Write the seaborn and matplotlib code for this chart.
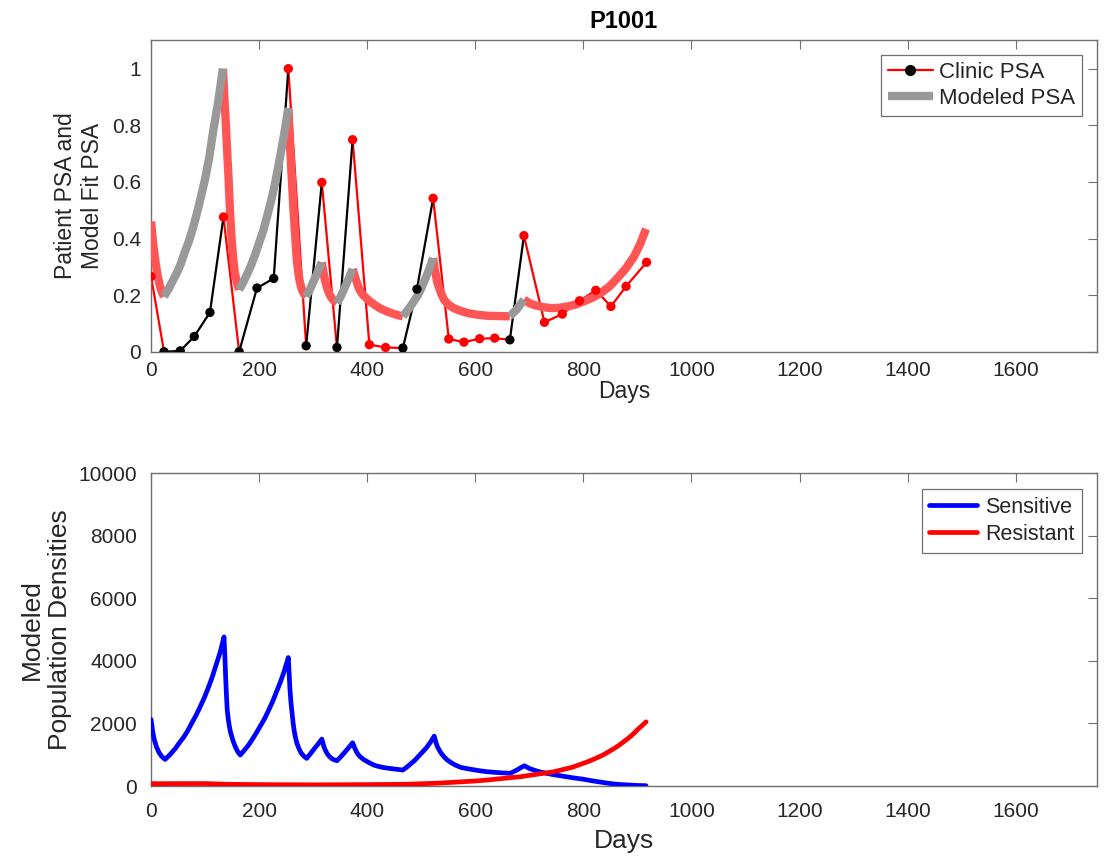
import numpy as np
import pandas as pd
import matplotlib
matplotlib.use("Agg")
import matplotlib.pyplot as plt
from matplotlib.lines import Line2D
import seaborn as sns

# ---------------- data ----------------
clinic_days = [0, 24, 54, 80, 109, 134, 163, 196, 227, 254, 287, 316, 344, 373, 404, 434,
               466, 492, 522, 551, 579, 608, 636, 664, 690, 728, 761, 793, 823, 851, 879, 917]
clinic_psa = [0.266, 0.0, 0.003, 0.054, 0.139, 0.476, 0.0, 0.225, 0.259, 1.0, 0.021, 0.598,
              0.015, 0.749, 0.025, 0.015, 0.013, 0.221, 0.542, 0.045, 0.034, 0.046, 0.048,
              0.042, 0.41, 0.104, 0.133, 0.18, 0.217, 0.16, 0.231, 0.316]
clinic_phase = ["on", "off", "off", "off", "off", "on", "off", "off", "off", "on", "off", "on",
                "off", "on", "on", "on", "off", "off", "on", "on", "on", "on", "on", "off",
                "on", "on", "on", "on", "on", "on", "on", "on"]

# modeled PSA, one list per treatment segment (on = red, off = gray)
model_on1_days = [0, 4, 8, 12, 16, 20, 24]
model_on1_psa = [0.46, 0.38, 0.32, 0.27, 0.235, 0.21, 0.195]
model_off1_days = [24, 32, 40, 48, 55, 62, 70, 78, 85, 92, 100, 108, 115, 124, 133]
model_off1_psa = [0.195, 0.22, 0.25, 0.28, 0.31, 0.35, 0.39, 0.44, 0.49, 0.545, 0.61, 0.69,
                  0.78, 0.88, 1.0]
model_on2_days = [133, 135.5, 138, 140.5, 143, 146, 149, 152, 155, 159, 163]
model_on2_psa = [1.0, 0.9, 0.82, 0.72, 0.63, 0.5, 0.40, 0.33, 0.28, 0.245, 0.219]
model_off2_days = [163, 170, 178, 185, 193, 200, 208, 215, 223, 230, 238, 246, 254]
model_off2_psa = [0.219, 0.243, 0.275, 0.305, 0.345, 0.385, 0.43, 0.48, 0.54, 0.60, 0.68,
                  0.765, 0.861]
model_on3_days = [254, 256, 258, 260, 262, 264, 266, 268, 270, 272.5, 275, 277.5, 280, 283.5, 287]
model_on3_psa = [0.861, 0.78, 0.70, 0.63, 0.56, 0.49, 0.43, 0.37, 0.32, 0.28, 0.25, 0.23,
                 0.215, 0.203, 0.195]
model_off3_days = [287, 294, 301, 308, 316]
model_off3_psa = [0.195, 0.22, 0.25, 0.28, 0.316]
model_on4_days = [316, 318, 320, 322.5, 325, 328, 331, 334, 337, 340.5, 344]
model_on4_psa = [0.316, 0.29, 0.27, 0.248, 0.23, 0.213, 0.20, 0.19, 0.183, 0.177, 0.172]
model_off4_days = [344, 351, 358, 365, 373]
model_off4_psa = [0.172, 0.195, 0.225, 0.255, 0.292]
model_on5_days = [373, 376.5, 380, 383.5, 387, 392, 398, 405, 412, 418, 425, 431, 437, 444,
                  452, 459, 466]
model_on5_psa = [0.292, 0.27, 0.25, 0.23, 0.215, 0.201, 0.19, 0.178, 0.168, 0.16, 0.152,
                 0.147, 0.142, 0.137, 0.132, 0.128, 0.125]
model_off5_days = [466, 473, 480, 487, 494, 501, 508, 515, 522]
model_off5_psa = [0.125, 0.142, 0.16, 0.18, 0.20, 0.228, 0.26, 0.293, 0.331]
model_on6_days = [522, 525, 530, 536, 542, 550, 560, 572, 585, 603, 622, 643, 664]
model_on6_psa = [0.331, 0.29, 0.243, 0.21, 0.184, 0.167, 0.154, 0.145, 0.137, 0.131, 0.127,
                 0.126, 0.125]
model_off6_days = [664, 670, 677, 683, 690]
model_off6_psa = [0.125, 0.137, 0.15, 0.166, 0.184]
model_on7_days = [690, 700, 709, 724, 740, 755, 771, 786, 801, 816, 832, 848, 863, 879, 894,
                  905, 916]
model_on7_psa = [0.184, 0.172, 0.165, 0.158, 0.154, 0.155, 0.16, 0.167, 0.178, 0.19, 0.207,
                 0.23, 0.26, 0.295, 0.337, 0.38, 0.434]

sens_days = [0, 3, 6, 10, 15, 20, 26, 35, 45, 52, 60, 68, 75, 83, 90, 98, 105, 113, 120, 128,
             135, 136.5, 138, 139.5, 141, 143, 145, 147, 149.5, 152, 156, 160, 165, 172, 180,
             187, 195, 202, 210, 217, 225, 232, 240, 247, 254, 255.5, 257, 259, 261, 263, 265,
             267.5, 270, 274, 278, 283, 288, 295, 302, 309, 316, 318, 320, 323, 326, 330, 334,
             339, 344, 351, 358, 365, 373, 376, 380, 383, 387, 393, 400, 412, 420, 430, 440,
             450, 458, 466, 473, 480, 488, 495, 502, 510, 517, 524, 527, 530, 536, 542, 548,
             555, 563, 573, 586, 600, 611, 622, 633, 645, 655, 665, 671, 678, 684, 691, 695,
             700, 710, 718, 727, 742, 760, 780, 801, 815, 830, 843, 857, 870, 885, 900, 916]
sens_vals = [2128, 1750, 1480, 1250, 1060, 940, 850, 1000, 1200, 1370, 1550, 1770, 2000, 2250,
             2500, 2800, 3100, 3470, 3850, 4280, 4763, 4200, 3500, 2900, 2424, 2120, 1900,
             1720, 1573, 1430, 1250, 1110, 989, 1130, 1300, 1480, 1700, 1910, 2150, 2400, 2700,
             3000, 3350, 3700, 4105, 3600, 3100, 2650, 2319, 2000, 1750, 1530, 1362, 1180,
             1050, 950, 883, 1030, 1190, 1340, 1499, 1380, 1250, 1130, 1030, 945, 880, 835,
             808, 930, 1070, 1210, 1381, 1250, 1100, 1010, 935, 850, 780, 670, 630, 590, 565,
             545, 527, 510, 600, 700, 820, 950, 1080, 1230, 1400, 1595, 1400, 1250, 1070, 935,
             835, 750, 670, 596, 550, 510, 480, 456, 440, 425, 414, 405, 460, 520, 585, 648,
             610, 560, 500, 460, 424, 370, 320, 265, 214, 170, 130, 95, 64, 45, 30, 18, 10]
res_days = [0, 100, 140, 200, 300, 400, 470, 530, 600, 622, 684, 746, 780, 808, 820, 835, 846,
            857, 866, 875, 882, 888, 894, 900, 908, 916]
res_vals = [75, 78, 55, 45, 38, 45, 55, 90, 160, 191, 298, 457, 600, 776, 860, 980, 1085,
            1200, 1300, 1420, 1510, 1595, 1690, 1800, 1920, 2051]

# ---------------- build tables ----------------
model_segments = [
    (model_on1_days, model_on1_psa, "on"), (model_off1_days, model_off1_psa, "off"),
    (model_on2_days, model_on2_psa, "on"), (model_off2_days, model_off2_psa, "off"),
    (model_on3_days, model_on3_psa, "on"), (model_off3_days, model_off3_psa, "off"),
    (model_on4_days, model_on4_psa, "on"), (model_off4_days, model_off4_psa, "off"),
    (model_on5_days, model_on5_psa, "on"), (model_off5_days, model_off5_psa, "off"),
    (model_on6_days, model_on6_psa, "on"), (model_off6_days, model_off6_psa, "off"),
    (model_on7_days, model_on7_psa, "on"),
]
rows = []
for k, (d, p, ph) in enumerate(model_segments):
    for dd, pp in zip(d, p):
        rows.append({"day": dd, "psa": pp, "seg": k, "phase": ph})
model_df = pd.DataFrame(rows)

# clinic line pieces, each colored by the phase of its starting visit
crow = []
for i in range(len(clinic_days) - 1):
    for j in (i, i + 1):
        crow.append({"day": clinic_days[j], "psa": clinic_psa[j], "seg": i,
                     "phase": clinic_phase[i]})
clinic_lines = pd.DataFrame(crow)
clinic_pts = pd.DataFrame({"day": clinic_days, "psa": clinic_psa, "phase": clinic_phase})

sens_df = pd.DataFrame({"day": sens_days, "val": sens_vals})
res_df = pd.DataFrame({"day": res_days, "val": res_vals})

# ---------------- style ----------------
sns.set_style("white")
plt.rcParams["font.family"] = ["Liberation Sans", "DejaVu Sans"]
TXT = "#262626"
SPINE = "#707070"

fig = plt.figure(figsize=(11.05, 8.61), dpi=100)
ax1 = fig.add_axes([0.1367, 0.5915, 0.8558, 0.3616])
ax2 = fig.add_axes([0.1367, 0.0871, 0.8558, 0.3635])

clinic_pal = {"on": "#ff0000", "off": "#000000"}
model_pal = {"on": "#ff5555", "off": "#999999"}

sns.lineplot(data=clinic_lines, x="day", y="psa", units="seg", estimator=None, hue="phase",
             palette=clinic_pal, sort=False, linewidth=1.6, legend=False, ax=ax1, zorder=2)
sns.lineplot(data=model_df, x="day", y="psa", units="seg", estimator=None, hue="phase",
             palette=model_pal, sort=False, linewidth=6, legend=False, ax=ax1, zorder=3,
             solid_capstyle="butt")
sns.scatterplot(data=clinic_pts, x="day", y="psa", hue="phase", palette=clinic_pal, s=45,
                edgecolor="none", legend=False, ax=ax1, zorder=4)

sns.lineplot(data=sens_df, x="day", y="val", color="#0000ff", linewidth=3.4, sort=False,
             estimator=None, ax=ax2, zorder=3)
sns.lineplot(data=res_df, x="day", y="val", color="#ff0000", linewidth=3.4, sort=False,
             estimator=None, ax=ax2, zorder=3)

for ax in (ax1, ax2):
    ax.set_xlim(0, 1750)
    ax.set_xticks(np.arange(0, 1601, 200))
    ax.tick_params(direction="in", top=True, right=True, length=6.5, width=0.8,
                   color=SPINE, labelcolor=TXT, labelsize=15, pad=7)
    for sp in ax.spines.values():
        sp.set_color(SPINE)
        sp.set_linewidth(1.0)
ax2.tick_params(axis="x", pad=11.5)
ax2.tick_params(axis="y", pad=10)

ax1.set_ylim(0, 1.1)
ax1.set_yticks([0, 0.2, 0.4, 0.6, 0.8, 1.0])
ax1.set_yticklabels(["0", "0.2", "0.4", "0.6", "0.8", "1"])
ax1.set_xlabel("Days", fontsize=16.5, color=TXT, labelpad=0)
ax1.set_ylabel("Patient PSA and\nModel Fit PSA", fontsize=16.5, color=TXT, labelpad=6)
ax1.set_title("P1001", fontsize=17, fontweight="bold", color="#000000", pad=9)

ax2.set_ylim(0, 10000)
ax2.set_yticks(np.arange(0, 10001, 2000))
ax2.set_xlabel("Days", fontsize=19, color=TXT, labelpad=6)
ax2.set_ylabel("Modeled\nPopulation Densities", fontsize=19, color=TXT, labelpad=5)

h1 = [Line2D([], [], color="#ff0000", lw=1.6, marker="o", markersize=7,
             markerfacecolor="#000000", markeredgecolor="#000000"),
      Line2D([], [], color="#999999", lw=6, solid_capstyle="butt")]
leg1 = ax1.legend(h1, ["Clinic PSA", "Modeled PSA"], loc="upper right",
                  bbox_to_anchor=(0.9845, 0.953), borderaxespad=0, fontsize=16,
                  frameon=True, fancybox=False, framealpha=1, edgecolor=SPINE,
                  handlelength=2.0, handletextpad=0.3, borderpad=0.3, labelspacing=0.25)
leg1.get_frame().set_linewidth(0.9)

h2 = [Line2D([], [], color="#0000ff", lw=3.4), Line2D([], [], color="#ff0000", lw=3.4)]
leg2 = ax2.legend(h2, ["Sensitive", "Resistant"], loc="upper right",
                  bbox_to_anchor=(0.9845, 0.949), borderaxespad=0, fontsize=15.5,
                  frameon=True, fancybox=False, framealpha=1, edgecolor=SPINE,
                  handlelength=2.2, handletextpad=0.4, borderpad=0.35, labelspacing=0.3)
leg2.get_frame().set_linewidth(0.9)

fig.savefig("out.png", dpi=100, facecolor="white")
